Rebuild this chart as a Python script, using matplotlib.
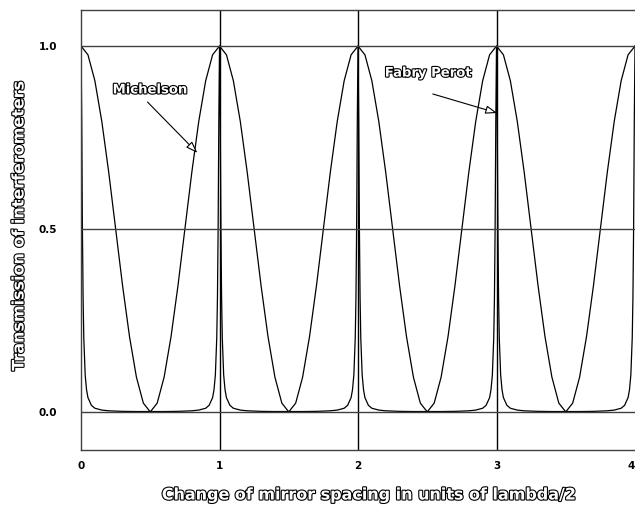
#!/usr/bin/env python3
"""Transmission of Michelson and Fabry-Perot interferometers vs mirror spacing."""
import matplotlib
matplotlib.use("Agg")
import matplotlib.pyplot as plt
import matplotlib.patheffects as pe

# Michelson: one period (offset from start of period, transmission)
mich_offsets = [0.0, 0.05, 0.1, 0.15, 0.2, 0.25, 0.3, 0.35, 0.4, 0.45, 0.5,
                0.55, 0.6, 0.65, 0.7, 0.75, 0.8, 0.85, 0.9, 0.95]
mich_values = [1.0, 0.976, 0.905, 0.794, 0.655, 0.5, 0.345, 0.206, 0.095, 0.024, 0.0,
               0.024, 0.095, 0.206, 0.345, 0.5, 0.655, 0.794, 0.905, 0.976]
mich_periods = [0, 1, 2, 3]

# Fabry-Perot: sharp peak at each integer (offset from peak, transmission)
fp_offsets = [-0.5, -0.4, -0.3, -0.2, -0.15, -0.1, -0.075, -0.05, -0.04, -0.03,
              -0.02, -0.015, -0.01, -0.005, 0.0, 0.005, 0.01, 0.015, 0.02, 0.03,
              0.04, 0.05, 0.075, 0.1, 0.15, 0.2, 0.3, 0.4]
fp_values = [0.001, 0.001, 0.0015, 0.003, 0.005, 0.010, 0.018, 0.039, 0.060, 0.101,
             0.202, 0.31, 0.503, 0.80, 1.0, 0.80, 0.503, 0.31, 0.202, 0.101,
             0.060, 0.039, 0.018, 0.010, 0.005, 0.003, 0.0015, 0.001]
fp_orders = [0, 1, 2, 3, 4]

x_ticks = [0, 1, 2, 3, 4]
x_ticklabels = ["0", "1", "2", "3", "4"]
y_ticks = [0.0, 0.5, 1.0]
y_ticklabels = ["0.0", "0.5", "1.0"]

outline = [pe.withStroke(linewidth=1.6, foreground="black")]

mich_x, mich_y = [], []
for p in mich_periods:
    mich_x += [p + o for o in mich_offsets]
    mich_y += mich_values
mich_x.append(mich_periods[-1] + 1)
mich_y.append(mich_values[0])

fp_x, fp_y = [], []
for k in fp_orders:
    for o, v in zip(fp_offsets, fp_values):
        if 0 <= k + o <= 4:
            fp_x.append(k + o)
            fp_y.append(v)

fig = plt.figure(figsize=(6.35, 5.09), dpi=100)
ax = fig.add_axes([0.1276, 0.116, 0.8724, 0.864])

ax.plot(mich_x, mich_y, color="black", lw=0.9)
ax.plot(fp_x, fp_y, color="black", lw=0.9)

for v in [1, 2, 3]:
    ax.axvline(v, color="black", lw=1.0)
for v in y_ticks:
    ax.axhline(v, color="#404040", lw=1.0)

ax.set_xlim(0, 4)
ax.set_ylim(-0.104, 1.098)
for side in ["left", "top", "bottom"]:
    ax.spines[side].set_color("#404040")
    ax.spines[side].set_linewidth(1.0)
ax.spines["right"].set_visible(False)

ax.set_xticks(x_ticks)
ax.set_xticklabels(x_ticklabels, fontsize=7.5, fontweight="bold")
ax.get_xticklabels()[-1].set_horizontalalignment("right")
ax.set_yticks(y_ticks)
ax.set_yticklabels(y_ticklabels, fontsize=7.5, fontweight="bold")
ax.tick_params(axis="x", length=0, pad=8)
ax.tick_params(axis="y", length=0, pad=17)

fig.text(370 / 635, 1 - 495 / 509, "Change of mirror spacing in units of lambda/2",
         fontsize=11.5, fontweight="bold", color="white", path_effects=outline,
         ha="center", va="center")
fig.text(19 / 635, 1 - 225 / 509, "Transmission of interferometers",
         fontsize=11.5, fontweight="bold", color="white", path_effects=outline,
         ha="center", va="center", rotation=90)

arrow = dict(arrowstyle="-|>,head_length=0.7,head_width=0.25", fc="white",
             ec="black", lw=0.8, shrinkA=0, shrinkB=0)
ax.annotate("", xy=(0.84, 0.708), xytext=(0.48, 0.847), arrowprops=arrow)
ax.text(0.50, 0.88, "Michelson", fontsize=9.5, fontweight="bold",
        color="white", path_effects=outline, ha="center", va="center")
ax.annotate("", xy=(3.005, 0.817), xytext=(2.54, 0.869), arrowprops=arrow)
ax.text(2.51, 0.926, "Fabry Perot", fontsize=9.5, fontweight="bold",
        color="white", path_effects=outline, ha="center", va="center")

fig.savefig("out.png", dpi=100)
